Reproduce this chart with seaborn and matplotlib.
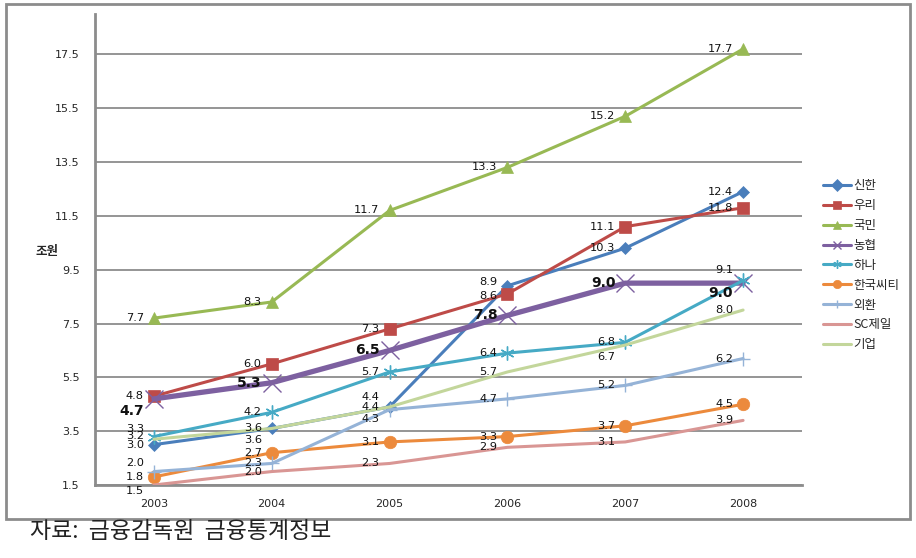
import matplotlib
matplotlib.use("Agg")
import matplotlib.pyplot as plt
import pandas as pd
import seaborn as sns
from matplotlib.patches import Rectangle

# data
years = [2003, 2004, 2005, 2006, 2007, 2008]
banks = ["신한", "우리", "국민", "농협", "하나", "한국씨티", "외환", "SC제일", "기업"]
shinhan = [3.0, 3.6, 4.4, 8.9, 10.3, 12.4]
woori = [4.8, 6.0, 7.3, 8.6, 11.1, 11.8]
kookmin = [7.7, 8.3, 11.7, 13.3, 15.2, 17.7]
nonghyup = [4.7, 5.3, 6.5, 7.8, 9.0, 9.0]
hana = [3.3, 4.2, 5.7, 6.4, 6.8, 9.1]
citi = [1.8, 2.7, 3.1, 3.3, 3.7, 4.5]
kexim = [2.0, 2.3, 4.3, 4.7, 5.2, 6.2]
sc = [1.5, 2.0, 2.3, 2.9, 3.1, 3.9]
ibk = [3.2, 3.6, 4.4, 5.7, 6.7, 8.0]
yticks = [1.5, 3.5, 5.5, 7.5, 9.5, 11.5, 13.5, 15.5, 17.5]

values = [shinhan, woori, kookmin, nonghyup, hana, citi, kexim, sc, ibk]
rows = []
for bank, vals in zip(banks, values):
    for y, v in zip(years, vals):
        rows.append({"year": y, "bank": bank, "value": v})
df = pd.DataFrame(rows)

colors = {"신한": "#4A7EBB", "우리": "#BE4B48", "국민": "#98B954", "농협": "#7D60A0",
          "하나": "#46AAC5", "한국씨티": "#EC8A3C", "외환": "#95B3D7", "SC제일": "#D99694",
          "기업": "#C3D69B"}
markers = {"신한": "D", "우리": "s", "국민": "^", "농협": "x", "하나": (6, 2, 0),
           "한국씨티": "o", "외환": "+", "SC제일": None, "기업": None}
msizes = {"신한": 6, "우리": 9, "국민": 9, "농협": 13, "하나": 10,
          "한국씨티": 9, "외환": 10, "SC제일": 0, "기업": 0}

# label nudges (pixels) for crowded points: (bank, year index) -> dy
label_dy = {("하나", 0): 8, ("기업", 0): 3, ("외환", 0): 9, ("SC제일", 0): -6,
            ("농협", 0): -12, ("기업", 1): -12, ("신한", 2): 10, ("외환", 2): -9,
            ("기업", 4): -12, ("하나", 5): 10, ("농협", 5): -10, ("신한", 3): 4,
            ("우리", 3): -2}

sns.set_style("white")
plt.rcParams["font.family"] = ["DejaVu Sans", "Noto Sans CJK KR"]

fig = plt.figure(figsize=(9.16, 5.58), dpi=100)
ax = fig.add_axes([95 / 916, 1 - 485 / 558, (802 - 95) / 916, (485 - 14) / 558])

grid_c = "#8C8C8C"
for t in yticks:
    ax.axhline(t, color=grid_c, lw=1.3, zorder=0)

for bank in banks:
    sub = df[df["bank"] == bank]
    lw = 3.8 if bank == "농협" else 2.2
    mk = markers[bank]
    sns.lineplot(data=sub, x="year", y="value", ax=ax, color=colors[bank], lw=lw,
                 marker=mk if mk is not None else "", markersize=msizes[bank],
                 markeredgewidth=1.0 if bank in ("농협", "하나", "외환") else 0.5,
                 markeredgecolor=colors[bank], label=bank, zorder=3)
    for i, row in enumerate(sub.itertuples()):
        bold = bank == "농협"
        ax.annotate(f"{row.value:.1f}", (row.year, row.value),
                    xytext=(-10, label_dy.get((bank, i), 0)), textcoords="offset pixels",
                    ha="right", va="center", fontsize=10 if bold else 8.2,
                    fontweight="bold" if bold else "normal", color="#111111", zorder=5)

ax.set_xlim(2002.5, 2008.5)
ax.set_ylim(1.5, 19.0)
ax.set_yticks(yticks)
ax.set_yticklabels([f"{t:.1f}" for t in yticks])
ax.set_xticks(years)
ax.set_xticks([y + 0.5 for y in [2002] + years], minor=True)
ax.tick_params(axis="x", which="major", length=0, pad=10, labelsize=8)
ax.tick_params(axis="x", which="minor", length=4, width=1.3, color=grid_c, direction="out")
ax.tick_params(axis="y", length=5, width=1.3, color=grid_c, direction="out", pad=6, labelsize=8)
ax.set_xlabel("")
ax.set_ylabel("")
for s in ["top", "right"]:
    ax.spines[s].set_visible(False)
for s in ["left", "bottom"]:
    ax.spines[s].set_color(grid_c)
    ax.spines[s].set_linewidth(2)

leg = ax.legend(loc="upper left", bbox_to_anchor=(812 / 916, 1 - 168 / 558),
                bbox_transform=fig.transFigure, frameon=False, fontsize=9,
                handlelength=2.2, handletextpad=0.2, labelspacing=0.55,
                prop={"family": ["Noto Sans CJK KR"], "size": 9})
for h in leg.legend_handles:
    h.set_linewidth(2.2)
    h.set_markersize(6)

fig.text(35 / 916, 1 - 252 / 558, "조원", fontsize=9, fontweight="bold",
         family=["Noto Sans CJK KR"], va="center")

fig.add_artist(Rectangle((6 / 916, 1 - 519 / 558), (910 - 6) / 916, (519 - 4) / 558,
                         transform=fig.transFigure, fill=False, edgecolor=grid_c, lw=2))

fig.text(30 / 916, 1 - 531 / 558, "자료:  금융감독원  금융통계정보", fontsize=16.5,
         family=["Noto Sans CJK KR"], color="#222222", va="center")

fig.savefig("out.png", dpi=100)
